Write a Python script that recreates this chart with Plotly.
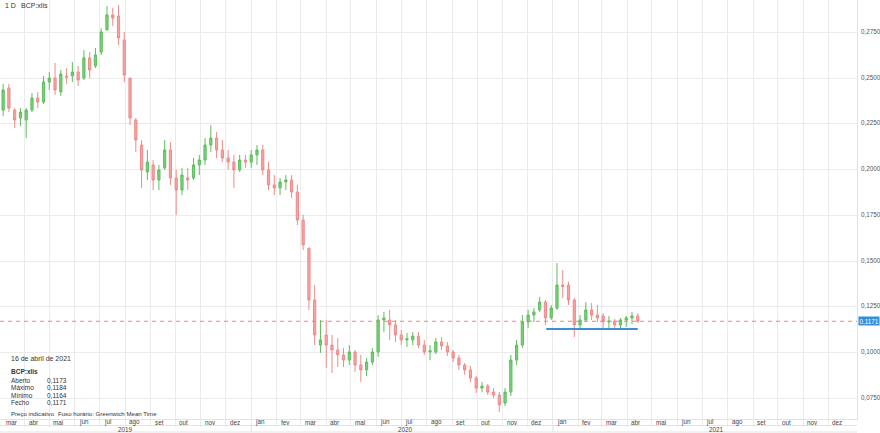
import plotly.graph_objects as go
import pandas as pd

# ---------------- data (weekly OHLC) ----------------
first_week = "2019-03-06"
opens = [0.2325, 0.2446, 0.2325, 0.2282, 0.2271, 0.2325, 0.2391, 0.2369, 0.2478, 0.2500,
         0.2424, 0.2511, 0.2511, 0.2533, 0.2500, 0.2610, 0.2566, 0.2642, 0.2763, 0.2845,
         0.2839, 0.2708, 0.2500, 0.2271, 0.2134, 0.1987, 0.2025, 0.1943, 0.2009, 0.2107,
         0.1954, 0.1888, 0.1954, 0.1954, 0.2025, 0.2052, 0.2134, 0.2172, 0.2107, 0.2063,
         0.2041, 0.1998, 0.2052, 0.2041, 0.2080, 0.2107, 0.1998, 0.1916, 0.1899, 0.1932,
         0.1943, 0.1877, 0.1724, 0.1571, 0.1287, 0.1041, 0.1096, 0.1041, 0.1014, 0.0987,
         0.0959, 0.1003, 0.0932, 0.0905, 0.0948, 0.1003, 0.1178, 0.1178, 0.1151, 0.1096,
         0.1069, 0.1069, 0.1090, 0.1041, 0.1003, 0.1003, 0.1058, 0.1036, 0.1003, 0.0970,
         0.0932, 0.0905, 0.0861, 0.0806, 0.0817, 0.0784, 0.0768, 0.0724, 0.0784, 0.0959,
         0.1041, 0.1167, 0.1205, 0.1233, 0.1276, 0.1189, 0.1243, 0.1369, 0.1369, 0.1287,
         0.1151, 0.1178, 0.1233, 0.1205, 0.1200, 0.1167, 0.1172, 0.1151, 0.1178, 0.1189,
         0.1200]
highs = [0.2468, 0.2468, 0.2336, 0.2336, 0.2336, 0.2418, 0.2424, 0.2511, 0.2533, 0.2582,
         0.2544, 0.2555, 0.2588, 0.2566, 0.2653, 0.2642, 0.2664, 0.2773, 0.2894, 0.2883,
         0.2899, 0.2752, 0.2500, 0.2282, 0.2161, 0.2107, 0.2052, 0.2025, 0.2161, 0.2150,
         0.1998, 0.2009, 0.2009, 0.2063, 0.2080, 0.2172, 0.2243, 0.2205, 0.2161, 0.2107,
         0.2080, 0.2080, 0.2080, 0.2107, 0.2134, 0.2134, 0.2041, 0.1970, 0.1954, 0.1970,
         0.1970, 0.1916, 0.1752, 0.1571, 0.1369, 0.1178, 0.1178, 0.1096, 0.1080, 0.1025,
         0.1041, 0.1014, 0.0987, 0.0970, 0.1025, 0.1205, 0.1222, 0.1233, 0.1178, 0.1123,
         0.1107, 0.1112, 0.1112, 0.1069, 0.1041, 0.1080, 0.1085, 0.1058, 0.1014, 0.0987,
         0.0943, 0.0927, 0.0872, 0.0839, 0.0828, 0.0806, 0.0784, 0.0806, 0.0987, 0.1069,
         0.1205, 0.1233, 0.1243, 0.1304, 0.1287, 0.1260, 0.1489, 0.1451, 0.1386, 0.1298,
         0.1205, 0.1276, 0.1271, 0.1260, 0.1216, 0.1200, 0.1184, 0.1189, 0.1200, 0.1222,
         0.1216]
lows = [0.2293, 0.2314, 0.2227, 0.2238, 0.2172, 0.2314, 0.2336, 0.2358, 0.2435, 0.2408,
        0.2402, 0.2468, 0.2478, 0.2457, 0.2489, 0.2500, 0.2555, 0.2626, 0.2763, 0.2784,
        0.2681, 0.2478, 0.2243, 0.2096, 0.1899, 0.1943, 0.1888, 0.1888, 0.1998, 0.1916,
        0.1752, 0.1861, 0.1888, 0.1943, 0.1970, 0.2025, 0.2096, 0.2063, 0.2041, 0.1998,
        0.1899, 0.1987, 0.2009, 0.2009, 0.2025, 0.1970, 0.1888, 0.1861, 0.1861, 0.1888,
        0.1845, 0.1697, 0.1560, 0.1233, 0.1041, 0.0998, 0.0916, 0.0888, 0.0921, 0.0921,
        0.0932, 0.0894, 0.0839, 0.0872, 0.0932, 0.0976, 0.1112, 0.1069, 0.1058, 0.1041,
        0.1030, 0.1041, 0.1025, 0.0987, 0.0959, 0.0992, 0.1014, 0.0981, 0.0948, 0.0905,
        0.0878, 0.0839, 0.0779, 0.0784, 0.0768, 0.0752, 0.0675, 0.0708, 0.0763, 0.0932,
        0.1025, 0.1134, 0.1167, 0.1222, 0.1151, 0.1178, 0.1233, 0.1298, 0.1260, 0.1085,
        0.1134, 0.1167, 0.1178, 0.1167, 0.1123, 0.1134, 0.1123, 0.1123, 0.1140, 0.1156,
        0.1162]
closes = [0.2435, 0.2336, 0.2271, 0.2314, 0.2325, 0.2391, 0.2369, 0.2478, 0.2500, 0.2435,
          0.2522, 0.2505, 0.2533, 0.2489, 0.2610, 0.2544, 0.2626, 0.2752, 0.2845, 0.2828,
          0.2719, 0.2517, 0.2282, 0.2161, 0.1998, 0.2041, 0.1943, 0.1998, 0.2107, 0.1954,
          0.1888, 0.1970, 0.1943, 0.2025, 0.2052, 0.2134, 0.2172, 0.2107, 0.2063, 0.2041,
          0.1998, 0.2052, 0.2041, 0.2080, 0.2107, 0.1998, 0.1916, 0.1899, 0.1932, 0.1943,
          0.1877, 0.1724, 0.1588, 0.1287, 0.1096, 0.1069, 0.1041, 0.1014, 0.0987, 0.0959,
          0.1003, 0.0932, 0.0905, 0.0948, 0.1003, 0.1178, 0.1189, 0.1151, 0.1096, 0.1069,
          0.1075, 0.1090, 0.1041, 0.1003, 0.1010, 0.1058, 0.1036, 0.1003, 0.0970, 0.0932,
          0.0905, 0.0861, 0.0806, 0.0817, 0.0784, 0.0768, 0.0714, 0.0784, 0.0959, 0.1041,
          0.1167, 0.1205, 0.1222, 0.1276, 0.1189, 0.1243, 0.1369, 0.1360, 0.1287, 0.1151,
          0.1178, 0.1233, 0.1205, 0.1189, 0.1167, 0.1172, 0.1151, 0.1178, 0.1189, 0.1200,
          0.1171]
dates = pd.date_range(first_week, periods=len(closes), freq="7D")

last_price = 0.1171
support_dates = ["2020-12-24", "2021-04-14"]
support_level = [0.1129, 0.1129]

y_ticks = [0.075, 0.100, 0.125, 0.150, 0.175, 0.200, 0.225, 0.250, 0.275]
month_names = ["jan", "fev", "mar", "abr", "mai", "jun", "jul", "ago", "set", "out", "nov", "dez"]
month_starts = pd.date_range("2019-03-01", "2021-12-01", freq="MS")
year_labels = ["2019", "2020", "2021"]
year_label_dates = ["2019-08-01", "2020-07-06", "2021-07-19"]

info_title = "16 de abril de 2021"
info_symbol = "BCP:xlis"
info_fields = ["Aberto", "Máximo", "Mínimo", "Fecho"]
info_values = [0.1173, 0.1184, 0.1164, 0.1171]

# ---------------- figure ----------------
W, H = 880, 433
ML, MR, MT, MB = 0, 23, 0, 14
PW, PH = W - ML - MR, H - MT - MB
FONT = "Liberation Sans, Arial, sans-serif"
GRID = "#ebebeb"
X_START, X_END = "2019-03-02 05:00", "2022-01-05"


def px(x):
    return x / PW


def py(y):
    return 1 - y / PH


def fmt(v):
    return f"{v:.4f}".replace(".", ",")


fig = go.Figure()
fig.add_trace(go.Candlestick(
    x=dates, open=opens, high=highs, low=lows, close=closes,
    increasing=dict(line=dict(color="#5cbf5c", width=1), fillcolor="#7ccf7c"),
    decreasing=dict(line=dict(color="#f08a8a", width=1), fillcolor="#f4a3a3"),
    whiskerwidth=0, showlegend=False, hoverinfo="skip",
))

# current price dashed line
fig.add_shape(type="line", xref="paper", x0=0, x1=1, yref="y", y0=last_price, y1=last_price,
              line=dict(color="#f08080", width=1, dash="4px,4px"))
# support line
fig.add_trace(go.Scatter(x=support_dates, y=support_level, mode="lines",
                         line=dict(color="#3d8fd8", width=2), showlegend=False, hoverinfo="skip"))

# info box background
fig.add_shape(type="rect", xref="paper", yref="paper", x0=px(3), x1=px(66), y0=py(409), y1=py(352),
              fillcolor="rgba(255,255,255,0.85)", line=dict(width=0), layer="below")
fig.add_shape(type="rect", xref="paper", yref="paper", x0=px(3), x1=px(152), y0=py(418), y1=py(409),
              fillcolor="rgba(255,255,255,0.85)", line=dict(width=0), layer="below")

ann = []
small = dict(family=FONT, size=6.5, color="#333333")
tiny = dict(family=FONT, size=6.1, color="#333333")
txt = dict(family=FONT, size=7, color="#333333")
axis_font = dict(family=FONT, size=6.3, color="#444")


def label(text, x, y, font=small, anchor="left"):
    ann.append(dict(text=text, x=px(x), y=py(y), xref="paper", yref="paper", xanchor=anchor,
                    yanchor="middle", showarrow=False, font=font))


label("1 D", 3, 6, txt)
label("BCP:xlis", 19, 6, txt)
label(info_title, 9, 358, txt)
label("<b>" + info_symbol + "</b>", 9, 371)
for i, (f, v) in enumerate(zip(info_fields, info_values)):
    yy = 380 + i * 7.6
    label(f, 9, yy)
    label(fmt(v), 45, yy)
label("Preço indicativo", 9, 413.5, tiny)
label("Fuso horário: Greenwich Mean Time", 56, 413.5, tiny)

# month labels (first month starts just before the visible range -> pin to left edge)
x_start = pd.Timestamp(X_START)
for d in month_starts:
    name = month_names[d.month - 1]
    if d < x_start:
        ann.append(dict(text=name, x=0, xref="paper", y=py(422.3), yref="paper",
                        xanchor="left", yanchor="middle", xshift=4, showarrow=False, font=axis_font))
    else:
        ann.append(dict(text=name, x=d, xref="x", y=py(422.3), yref="paper",
                        xanchor="left", yanchor="middle", xshift=2, showarrow=False, font=axis_font))
for t, d in zip(year_labels, year_label_dates):
    ann.append(dict(text=t, x=d, xref="x", y=py(429), yref="paper", xanchor="center", yanchor="middle",
                    showarrow=False, font=axis_font))

# y tick labels (right side)
for v in y_ticks:
    ann.append(dict(text=fmt(v), x=1, xref="paper", y=v, yref="y", xanchor="left", yanchor="middle",
                    xshift=2, yshift=1, showarrow=False, font=dict(family=FONT, size=6.3, color="#555")))

# last price tag
ann.append(dict(text=fmt(last_price), x=1, xref="paper", y=last_price, yref="y",
                xanchor="left", yanchor="middle", xshift=1, showarrow=False, bgcolor="#358ddc",
                borderpad=0.5, font=dict(family=FONT, size=6.3, color="white")))

# bands below plot
for yy in [425.5, 432]:
    fig.add_shape(type="line", xref="paper", yref="paper", x0=0, x1=1, y0=py(yy), y1=py(yy),
                  line=dict(color="#e2e2e2", width=1))
for d in ["2020-01-01", "2021-01-01"]:
    fig.add_shape(type="line", xref="x", yref="paper", x0=d, x1=d, y0=py(425.5), y1=py(432),
                  line=dict(color="#e2e2e2", width=1))

fig.update_layout(
    width=W, height=H, margin=dict(l=ML, r=MR, t=MT, b=MB),
    paper_bgcolor="white", plot_bgcolor="white",
    separators=",.", boxgap=0.45,
    annotations=ann, showlegend=False,
    xaxis=dict(type="date", range=[X_START, X_END], rangeslider=dict(visible=False),
               tickvals=list(month_starts), showticklabels=False, ticks="outside", ticklen=7,
               tickcolor=GRID, showgrid=True, gridcolor=GRID, gridwidth=1,
               showline=True, linecolor="#e2e2e2", linewidth=1, zeroline=False, fixedrange=True),
    yaxis=dict(side="right", range=[0.06369, 0.29265], tickvals=y_ticks, showticklabels=False,
               showgrid=True, gridcolor=GRID, gridwidth=1, ticks="",
               showline=True, linecolor="#e2e2e2", linewidth=1, zeroline=False, fixedrange=True),
)

fig.write_html("out.html", config={"displayModeBar": False},
               post_script="document.body.style.margin='0';")
